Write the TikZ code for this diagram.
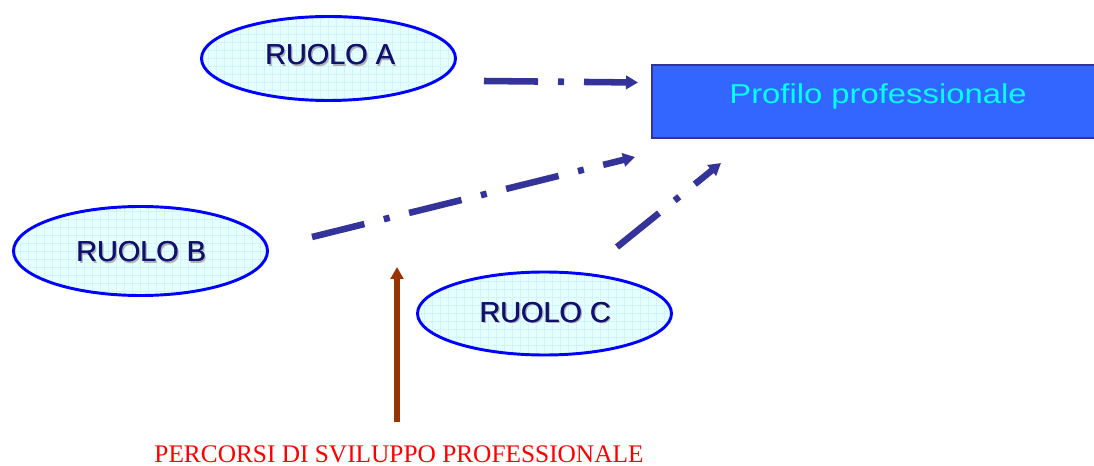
\documentclass[tikz,border=0pt]{standalone}
\usepackage{fontspec}
\usepackage{graphicx}
\setmainfont{Liberation Serif}
\setsansfont{Liberation Sans}
\usetikzlibrary{arrows.meta,shapes.geometric}
\definecolor{arrowblue}{RGB}{51,51,153}
\definecolor{boxblue}{RGB}{51,102,255}
\definecolor{ellfill}{RGB}{230,255,255}
\definecolor{gridc}{RGB}{208,244,252}
\definecolor{ellline}{RGB}{0,0,255}
\definecolor{navytext}{RGB}{16,16,110}
\definecolor{shadowc}{RGB}{175,175,185}
\definecolor{brownarrow}{RGB}{153,51,0}
\definecolor{redtext}{RGB}{255,0,0}
\definecolor{proftext}{RGB}{0,255,255}
\newcommand{\shadowtext}[1]{\makebox[0pt][l]{\kern1.2pt\raisebox{-1.2pt}{\textcolor{shadowc}{#1}}}\makebox[0pt][l]{\kern0.35pt#1}#1}
\begin{document}
\begin{tikzpicture}[x=0.75pt,y=-0.75pt,
  role/.style={ellipse, draw=ellline, line width=2.2pt, fill=ellfill, inner sep=0pt,
    minimum width=190.5pt,
    path picture={\draw[gridc, line width=0.35pt, xstep=6pt, ystep=6pt] (path picture bounding box.south west) grid (path picture bounding box.north east);}},
  roletext/.style={anchor=base, font=\sffamily\fontsize{21.6}{26}\selectfont, text=navytext, inner sep=0pt},
  dashdot/.style={draw=arrowblue, line width=4.9pt, dash pattern=on 40.5pt off 15pt on 4.5pt off 15pt,
    -{Triangle[length=9pt,width=10pt]}},
  uparrow/.style={draw=brownarrow, line width=4.6pt, -{Triangle[length=9pt,width=9.5pt]}}
]
\useasboundingbox (0,0) rectangle (1094,466);

% role ellipses
\node[role, minimum height=63pt] (A) at (328.5,58.5) {};
\node[role, minimum height=66.75pt] (B) at (140.5,251) {};
\node[role, minimum height=62.25pt] (C) at (544.5,313.5) {};
\node[roletext] (tA) at (330,65) {\shadowtext{RUOLO A}};
\node[roletext] (tB) at (141,262) {\shadowtext{RUOLO B}};
\node[roletext] (tC) at (545,322) {\shadowtext{RUOLO C}};

% profile box
\node[draw=arrowblue, fill=boxblue, line width=1.5pt, anchor=north west,
      minimum width=334pt, minimum height=55pt, inner sep=0pt] (P) at (651,64) {};
\node[anchor=base, inner sep=0pt, text=proftext, font=\sffamily\fontsize{20.5}{24}\selectfont] (tP) at (878,104) {\scalebox{1.2}[1]{Profilo professionale}};

% connector end points
\coordinate (a1) at (484,81);
\coordinate (a2) at (638,82.5);
\coordinate (b1) at (312,237);
\coordinate (b2) at (635,157);
\coordinate (c1) at (617,247);
\coordinate (c2) at (721,163);
\coordinate (p1) at (397,422);
\coordinate (p2) at (397,267);

\draw[dashdot] (a1) -- (a2);
\draw[dashdot] (b1) -- (b2);
\draw[dashdot] (c1) -- (c2);
\draw[uparrow] (p1) -- (p2);

\node[anchor=base, inner sep=0pt, text=redtext, font=\rmfamily\fontsize{19}{22}\selectfont] (perc) at (399,462) {PERCORSI DI SVILUPPO PROFESSIONALE};
\end{tikzpicture}
\end{document}
